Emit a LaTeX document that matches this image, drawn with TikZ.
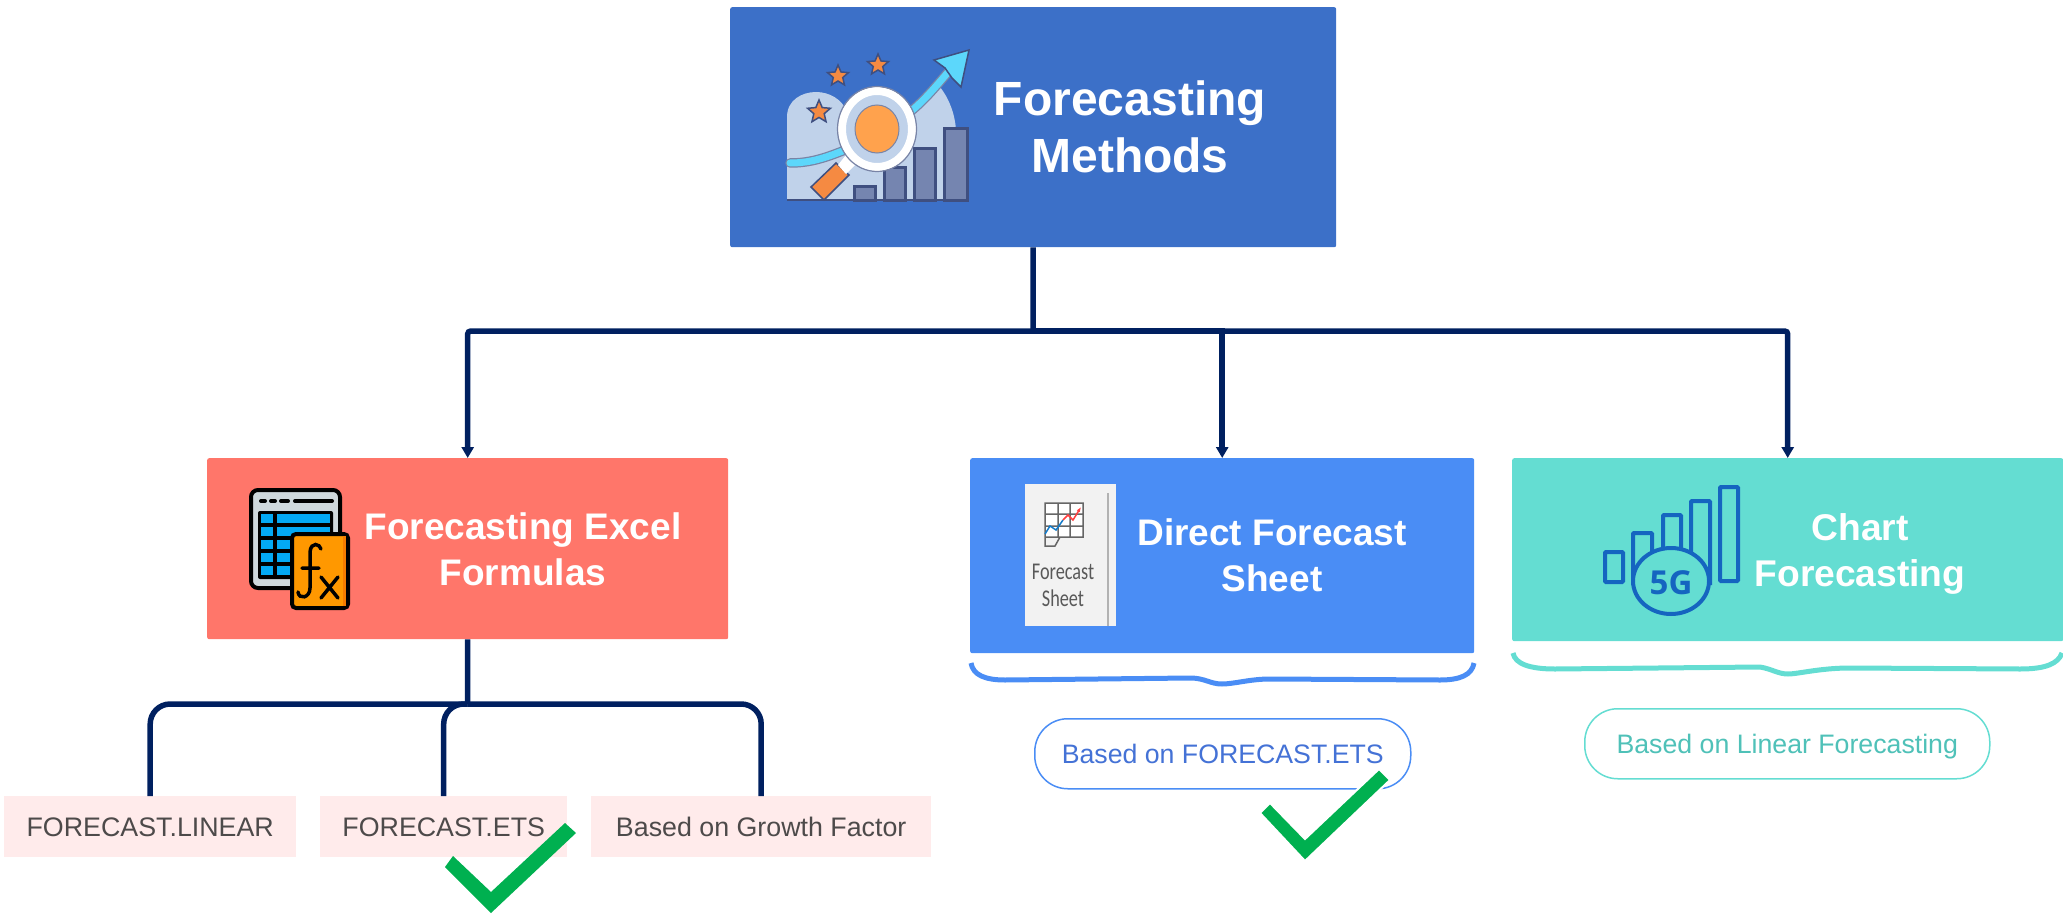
\documentclass[tikz,border=0pt]{standalone}
\usepackage{fontspec}
\setmainfont{Liberation Sans}
\newfontfamily\iconfont{Carlito}
\newfontfamily\fivefont{Open Sans}
\usetikzlibrary{arrows.meta,shapes.geometric}
\definecolor{navy}{HTML}{002060}
\definecolor{mainblue}{HTML}{3C70C8}
\definecolor{coral}{HTML}{FF766A}
\definecolor{skyblue}{HTML}{4A8DF5}
\definecolor{teal2}{HTML}{64DDD2}
\definecolor{pinkbox}{HTML}{FFEBEB}
\definecolor{grtext}{HTML}{4D4A4A}
\definecolor{pilltxt}{HTML}{4472D6}
\definecolor{tealtxt}{HTML}{4FC1B8}
\definecolor{chk}{HTML}{00B050}
\definecolor{inkblue}{HTML}{3F4F80}
\definecolor{barfill}{HTML}{7585B0}
\definecolor{paleblue}{HTML}{C0D2EA}
\definecolor{cyanar}{HTML}{5CD7FB}
\definecolor{orangeA}{HTML}{FFA24D}
\definecolor{orangeB}{HTML}{F58A42}
\definecolor{gigblue}{HTML}{1565C0}
\definecolor{winfill}{HTML}{CFD8DC}
\definecolor{cellblue}{HTML}{03A9F4}
\definecolor{cardor}{HTML}{FF9800}
\definecolor{carddk}{HTML}{F57C00}
\newcommand{\fsz}[2]{\fontsize{#1}{#2}\selectfont}
\tikzset{
  x=1pt,y=-1pt,
  card/.style={rounded corners=2pt,inner sep=0pt,anchor=north west},
  title/.style={text=white,align=center,inner sep=0pt},
  link/.style={draw=navy,line width=5.5pt},
  tiplink/.style={link,-{Triangle[length=11pt,width=12pt]}},
  leaf/.style={fill=pinkbox,inner sep=0pt,anchor=north west,minimum height=61pt,text=grtext,font=\fsz{26.8}{30},text height=20pt,text depth=0pt},
  pill/.style={rounded corners=33pt,line width=1.5pt,inner sep=0pt,anchor=north west,fill=white,font=\fsz{26.7}{30},text height=20pt,text depth=0pt},
  tick/.style={fill=chk,draw=none},
  starsty/.style={star,star points=5,star point ratio=2.2,fill=orangeB,draw=inkblue,line width=1.5pt,inner sep=0pt,minimum size=#1},
  cell/.style={fill=#1,draw=none},
  bar/.style={draw=inkblue,line width=3pt,fill=barfill},
  sigbar/.style={draw=gigblue,line width=4pt,rounded corners=1pt},
}
\begin{document}
\begin{tikzpicture}
\useasboundingbox (0,0) rectangle (2063,915);

% --- main boxes
\node[card,fill=mainblue,minimum width=606pt,minimum height=240pt] (main) at (730,7) {};
\node[card,fill=coral,minimum width=521pt,minimum height=181pt] (excel) at (207,458) {};
\node[card,fill=skyblue,minimum width=504pt,minimum height=195pt] (direct) at (970,458) {};
\node[card,fill=teal2,minimum width=551pt,minimum height=183pt] (chart) at (1512,458) {};

% --- connectors
\coordinate (hub) at (1033,331);
\coordinate (hubb) at (467.5,704);
\draw[link] (main.south) -- (hub);
\draw[tiplink,rounded corners=3pt] (hub) -| (excel.north);
\draw[tiplink] (hub) -| (direct.north);
\draw[tiplink,rounded corners=3pt] (hub) -| (chart.north);
\draw[link] (excel.south) -- (hubb);

% --- leaves
\node[leaf,minimum width=292pt] (flin) at (4,796) {FORECAST.LINEAR};
\node[leaf,minimum width=247pt] (fets) at (320,796) {FORECAST.ETS};
\node[leaf,minimum width=340pt] (fgro) at (591,796) {Based on Growth Factor};
\draw[link,rounded corners=20pt] (hubb) -| (flin.north);
\draw[link,rounded corners=20pt] (hubb) -| (fets.north);
\draw[link,rounded corners=20pt] (hubb) -| (fgro.north);

% --- titles
\node[title,font=\bfseries\fsz{48}{57}] (tmain) at (1130,127) {Forecasting\\Methods};
\node[title,font=\bfseries\fsz{37}{46}] (texcel) at (523,549) {Forecasting Excel\\Formulas};
\node[title,font=\bfseries\fsz{37}{46}] (tdirect) at (1272,555) {Direct Forecast\\Sheet};
\node[title,font=\bfseries\fsz{37.2}{46}] (tchart) at (1860,554) {Chart\\Forecasting};

% --- braces
\draw[skyblue,line width=5pt] (971,663) .. controls (973,675) and (985,680) .. (1005,680)
  -- (1190,678) .. controls (1205,678) and (1210,684) .. (1222,684)
  .. controls (1234,684) and (1250,679) .. (1270,679) -- (1440,680)
  .. controls (1460,680) and (1472,675) .. (1474,663);
\draw[teal2,line width=5pt] (1513,653) .. controls (1515,664) and (1530,669) .. (1555,669)
  -- (1760,667) .. controls (1772,669) and (1778,674) .. (1788,674)
  .. controls (1798,674) and (1820,668) .. (1850,668) -- (2020,669)
  .. controls (2045,669) and (2058,664) .. (2062,653);

% --- pills
\node[pill,draw=skyblue,text=pilltxt,minimum width=376pt,minimum height=70pt] (pdirect) at (1034,718) {Based on FORECAST.ETS};
\node[pill,draw=teal2,text=tealtxt,minimum width=405pt,minimum height=70pt] (pchart) at (1584,708) {Based on Linear Forecasting};

% --- check marks
\fill[tick] (565,823) -- (576,833) -- (491,913) -- (445,867) -- (453,856) -- (491,892) -- cycle;
\draw[white,line width=2pt,fill=chk] (1379,769) -- (1390,780) -- (1305,861) -- (1260,813) -- (1270,803) -- (1305,839) -- cycle;

% --- main icon
\fill[paleblue] (787,200) -- (787,117) .. controls (787,100) and (802,92) .. (816,92)
  .. controls (830,92) and (842,100) .. (846,110) -- (905,110) .. controls (925,100) and (935,90) .. (940,87)
  .. controls (950,100) and (955,115) .. (956,130) -- (956,200) -- cycle;
\draw[inkblue,line width=2pt] (787,200) -- (969,200);
\draw[inkblue!70,line width=9.5pt,line cap=round] (790,163) .. controls (810,163) and (825,158) .. (845,150);
\draw[cyanar,line width=7pt,line cap=round] (790,163) .. controls (810,163) and (825,158) .. (845,150);
\draw[inkblue!70,line width=9.5pt] (910,112) .. controls (925,100) and (937,85) .. (950,70);
\draw[cyanar,line width=7pt] (910,112) .. controls (925,100) and (937,85) .. (950,70);
\filldraw[fill=cyanar,draw=inkblue,line width=1.5pt] (969,50) -- (934,60) -- (945,68) -- (952,78) -- (961,87) -- cycle;
\draw[bar] (854.5,186.5) rectangle (875.5,200);
\draw[bar] (884.5,167.5) rectangle (905.5,200);
\draw[bar] (914.5,148.5) rectangle (935.5,200);
\draw[bar] (944.5,128.5) rectangle (967.5,200);
\filldraw[fill=orangeB,draw=inkblue,line width=1.5pt] (811,187) -- (836,163) -- (849,175) -- (824,200) -- cycle;
\fill[white] (838,165) -- (850,150) -- (858,162) -- (846,174) -- cycle;
\filldraw[fill=paleblue,draw=white,line width=8pt] (877,129) ellipse [x radius=35pt,y radius=38pt];
\draw[inkblue!70,line width=1.2pt] (877,129) ellipse [x radius=39.5pt,y radius=42.5pt];
\filldraw[fill=orangeA,draw=inkblue!70,line width=1pt] (877,129) ellipse [x radius=22pt,y radius=24pt];
\node[starsty=22pt] (s1) at (838,76) {};
\node[starsty=22pt] (s2) at (878,65) {};
\node[starsty=24pt] (s3) at (819,112) {};

% --- formula icon
\filldraw[fill=winfill,draw=black,line width=4pt,rounded corners=7pt] (251,490) rectangle (340,588);
\fill[black,rounded corners=2pt] (258,511) rectangle (333,579);
\foreach \ya/\yb in {514/523,527/536,540/549,553/562,566/575}{
  \fill[cell=cellblue] (261,\ya) rectangle (273,\yb);
  \fill[cell=cellblue] (277,\ya) rectangle (330,\yb);
}
\draw[black,line width=4pt,line cap=round] (261,501) -- (265,501) (271,501) -- (275,501) (281,501) -- (288,501) (295,501) -- (332,501);
\filldraw[fill=cardor,draw=black,line width=4pt,rounded corners=4pt] (292,534) rectangle (348,608);
\fill[carddk] (343,536) rectangle (346,606);
\draw[black,line width=3.5pt,line cap=round] (321,549) .. controls (320,544) and (311,541) .. (310,552) -- (310,588)
  .. controls (310,598) and (299,600) .. (298,592)
  (302,568) -- (319,568) (321,577) -- (338,598) (338,577) -- (321,598);

% --- forecast-sheet icon
\fill[black!5] (1025,484) rectangle (1116,626);
\draw[black!30,line width=1.5pt] (1108,493) -- (1108,626);
\fill[white] (1045,503) rectangle (1083,537);
\draw[black!60,line width=1.5pt] (1045,537) -- (1045,503) -- (1083,503) -- (1083,537) -- (1045,537)
  (1045,514) -- (1083,514) (1045,526) -- (1083,526) (1058,503) -- (1058,537) (1070,503) -- (1070,537)
  (1045,537) -- (1045,546) -- (1055,546) -- (1060,537);
\draw[cyan!60!blue,line width=1.5pt] (1045,534) -- (1050,526) -- (1056,530) -- (1063,520);
\draw[red!75,line width=1.5pt,-{Latex[length=5pt]}] (1063,520) -- (1068,515) -- (1073,520) -- (1081,507);
\node[inner sep=0pt,text=black!65,align=center,xscale=.76,transform shape,font=\iconfont\fsz{24}{27}] (ftxt) at (1063,585) {Forecast\\Sheet};

% --- 5G icon
\draw[sigbar] (1605,552) rectangle (1623,582);
\draw[sigbar] (1633,585) -- (1633,533) -- (1652,533) -- (1652,585);
\draw[sigbar] (1663,585) -- (1663,515) -- (1681,515) -- (1681,585);
\draw[sigbar] (1691,585) -- (1691,501) -- (1710,501) -- (1710,585);
\draw[sigbar] (1720,487) rectangle (1738,581);
\filldraw[fill=teal2,draw=gigblue,line width=4pt] (1671,581) ellipse [x radius=38pt,y radius=33pt];
\node[inner sep=0pt,text=gigblue,font=\fivefont\bfseries\fsz{33}{33}] (five) at (1671,583) {5G};
\end{tikzpicture}
\end{document}
